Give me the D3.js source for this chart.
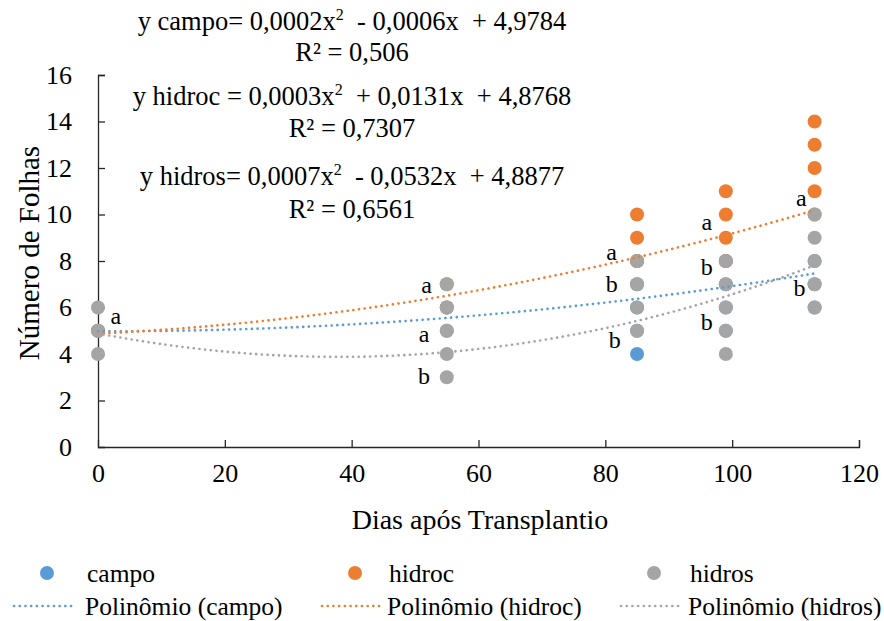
<!DOCTYPE html>
<html>
<head>
<meta charset="utf-8">
<script src="https://cdn.jsdelivr.net/npm/d3@7"></script>
</head>
<body style="margin:0;background:#fff">
<svg id="fig" width="884" height="621"></svg>
<script>
// ---- data ----
const campoDays   = [0, 55, 55, 85, 85, 85, 85, 85, 99, 99, 99, 99, 113, 113, 113];
const campoValues = [5, 5, 6, 4, 5, 6, 7, 8, 5, 6, 7, 8, 6, 7, 8];

const hidrocDays   = [0, 55, 55, 85, 85, 85, 99, 99, 99, 99, 113, 113, 113, 113, 113];
const hidrocValues = [5, 6, 7, 8, 9, 10, 8, 9, 10, 11, 10, 11, 12, 13, 14];

const hidrosDays   = [0, 0, 0, 55, 55, 55, 55, 55, 85, 85, 85, 85, 99, 99, 99, 99, 99, 113, 113, 113, 113, 113];
const hidrosValues = [4, 5, 6, 3, 4, 5, 6, 7, 5, 6, 7, 8, 4, 5, 6, 7, 8, 6, 7, 8, 9, 10];

// trendline coefficients (a x^2 + b x + c), as printed on the chart
const campoCoef  = [0.0002, -0.0006, 4.9784];
const hidrocCoef = [0.0003, 0.0131, 4.8768];
const hidrosCoef = [0.0007, -0.0532, 4.8877];
const trendRange = [0, 113];

const equationLines = [
  ["y campo= 0,0002x", "2", "  - 0,0006x  + 4,9784"],
  ["R² = 0,506"],
  ["y hidroc = 0,0003x", "2", "  + 0,0131x  + 4,8768"],
  ["R² = 0,7307"],
  ["y hidros= 0,0007x", "2", "  - 0,0532x  + 4,8877"],
  ["R² = 0,6561"]
];

// significance letters (day, value position, text)
const letterDays   = [2.8, 51.8, 51.4, 51.4, 81.0, 81.0, 81.5, 96.0, 96.0, 96.0, 110.9, 110.6];
const letterValues = [5.63, 6.97, 4.86, 3.05, 8.4, 7.0, 4.6, 9.68, 7.74, 5.36, 10.7, 6.82];
const letterTexts  = ["a", "a", "a", "b", "a", "b", "b", "a", "b", "b", "a", "b"];

const xTicks = [0, 20, 40, 60, 80, 100, 120];
const yTicks = [0, 2, 4, 6, 8, 10, 12, 14, 16];

const seriesNames = ["campo", "hidroc", "hidros"];
const colors = { campo: "#5B9BD5", hidroc: "#ED7D31", hidros: "#A5A5A5" };

const FONT = '"Liberation Serif"';

// ---- layout ----
const svg = d3.select("#fig");
const x = d3.scaleLinear().domain([0, 120]).range([98, 859]);
const y = d3.scaleLinear().domain([0, 16]).range([447, 75]);

function styleText(sel, size) {
  return sel.style("font-family", FONT, "important")
    .style("font-size", size + "px", "important")
    .style("fill", "#000");
}

// axes
const axisColor = "#262626";
const xAxis = d3.axisBottom(x).tickValues(xTicks).tickSize(-7).tickPadding(17).tickFormat(d3.format("d"));
const yAxis = d3.axisLeft(y).tickValues(yTicks).tickSize(-7).tickPadding(24).tickFormat(d3.format("d"));

const gx = svg.append("g").attr("transform", `translate(0,${y(0)})`).call(xAxis);
const gy = svg.append("g").attr("transform", `translate(${x(0)},0)`).call(yAxis);
[gx, gy].forEach(g => {
  g.attr("font-family", null).attr("font-size", null);
  g.select(".domain").attr("stroke", axisColor).attr("stroke-width", 1.3);
  g.selectAll(".tick line").attr("stroke", axisColor).attr("stroke-width", 1.3);
  styleText(g.selectAll(".tick text"), 26);
});
gx.selectAll(".tick").filter(d => d === 0).select("line").remove();
gy.selectAll(".tick").filter(d => d === 0).select("line").remove();
gy.selectAll(".tick text").attr("x", -26);

// axis titles
styleText(svg.append("text").attr("x", 480).attr("y", 529).attr("text-anchor", "middle"), 28)
  .text("Dias após Transplantio");
styleText(svg.append("text").attr("transform", "translate(39,253) rotate(-90)").attr("text-anchor", "middle"), 29)
  .text("Número de Folhas");

// trendlines
const line = d3.line().x(d => x(d[0])).y(d => y(d[1]));
function curve(coef) {
  const pts = [];
  for (let t = trendRange[0]; t <= trendRange[1]; t += 1) {
    pts.push([t, coef[0] * t * t + coef[1] * t + coef[2]]);
  }
  return pts;
}

// points
const pointSets = {
  campo: campoDays.map((d, i) => [d, campoValues[i]]),
  hidroc: hidrocDays.map((d, i) => [d, hidrocValues[i]]),
  hidros: hidrosDays.map((d, i) => [d, hidrosValues[i]])
};
seriesNames.forEach(name => {
  svg.append("g").selectAll("circle").data(pointSets[name]).enter().append("circle")
    .attr("cx", d => x(d[0])).attr("cy", d => y(d[1])).attr("r", 7)
    .attr("fill", colors[name]);
});

const coefs = { campo: campoCoef, hidroc: hidrocCoef, hidros: hidrosCoef };
seriesNames.forEach(name => {
  svg.append("path").datum(curve(coefs[name])).attr("d", line)
    .attr("fill", "none").attr("stroke", colors[name]).attr("stroke-width", 2.6)
    .attr("stroke-linecap", "round").attr("stroke-dasharray", "0.1 5.6");
});

// letters
styleText(svg.append("g").selectAll("text").data(letterTexts).enter().append("text")
  .attr("x", (d, i) => x(letterDays[i])).attr("y", (d, i) => y(letterValues[i]))
  .attr("text-anchor", "middle").attr("dy", "0.33em"), 24)
  .text(d => d);

// equations
const eqBaselines = [30, 61, 105, 137, 185, 218];
equationLines.forEach((parts, i) => {
  const t = styleText(svg.append("text").attr("x", 352).attr("y", eqBaselines[i])
    .attr("text-anchor", "middle").style("white-space", "pre"), 26.5);
  if (parts.length === 1) {
    t.text(parts[0]);
  } else {
    t.append("tspan").text(parts[0]);
    t.append("tspan").attr("dy", -10).style("font-size", "16px", "important").text(parts[1]);
    t.append("tspan").attr("dy", 10).text(parts[2]);
  }
});

// legend
const legendCols = [47, 355, 654];
const legendText = [87, 389, 690];
seriesNames.forEach((name, i) => {
  svg.append("circle").attr("cx", legendCols[i]).attr("cy", 573).attr("r", 7).attr("fill", colors[name]);
  styleText(svg.append("text").attr("x", legendText[i]).attr("y", 573).attr("dy", "0.35em"), 25.5)
    .text(name);
  svg.append("line").attr("x1", legendCols[i] - 33).attr("x2", legendCols[i] + 29)
    .attr("y1", 606).attr("y2", 606)
    .attr("stroke", colors[name]).attr("stroke-width", 2.6)
    .attr("stroke-linecap", "round").attr("stroke-dasharray", "0.1 5.6");
  styleText(svg.append("text").attr("x", legendText[i] - 2).attr("y", 606).attr("dy", "0.35em"), 25.5)
    .text(`Polinômio (${name})`);
});

svg.selectAll("text").each(function () { this.getComputedTextLength(); });
</script>
</body>
</html>
